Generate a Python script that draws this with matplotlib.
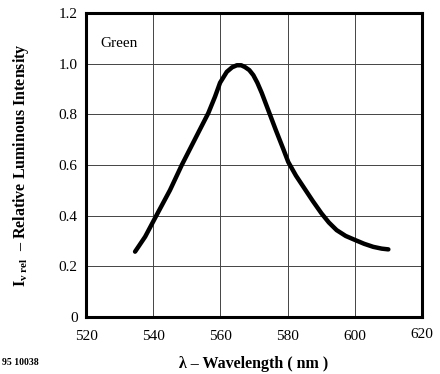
import matplotlib
matplotlib.use("Agg")
import matplotlib.pyplot as plt

wavelength = [534.6, 537.6, 541.0, 545.0, 548.5, 551.0, 553.5, 556.4, 558.4,
              559.9, 561.9, 563.5, 564.9, 566.2, 567.3, 568.6, 569.8, 571.0,
              572.3, 574.3, 576.5, 578.7, 580.2, 582.5, 584.7, 587.5, 590.1,
              592.3, 594.6, 597.3, 600.1, 602.8, 605.5, 608.0, 610.0]
intensity = [0.258, 0.317, 0.402, 0.501, 0.600, 0.665, 0.730, 0.805, 0.870,
             0.925, 0.968, 0.986, 0.994, 0.994, 0.987, 0.975, 0.955, 0.925,
             0.885, 0.815, 0.738, 0.664, 0.612, 0.558, 0.514, 0.458, 0.409,
             0.373, 0.343, 0.320, 0.304, 0.289, 0.277, 0.270, 0.267]

xticks = [520, 540, 560, 580, 600, 620]
yticks = [0, 0.2, 0.4, 0.6, 0.8, 1.0, 1.2]
yticklabels = ["0", "0.2", "0.4", "0.6", "0.8", "1.0", "1.2"]

plt.rcParams["font.family"] = ["Liberation Serif", "DejaVu Serif"]
plt.rcParams["mathtext.fontset"] = "custom"
plt.rcParams["mathtext.rm"] = "Liberation Serif"
plt.rcParams["mathtext.it"] = "Liberation Serif:italic"
plt.rcParams["mathtext.bf"] = "Liberation Serif:bold"

fig = plt.figure(figsize=(4.4, 3.74), dpi=100)
ax = fig.add_axes([0.1955, 0.1524, 0.7635, 0.8126])

ax.plot(wavelength, intensity, color="black", lw=3.2,
        solid_capstyle="round", solid_joinstyle="round")
ax.set_xlim(520, 620)
ax.set_ylim(0, 1.2)
ax.set_xticks(xticks)
ax.set_xticklabels([str(t) for t in xticks[:-1]] + [""])
ax.set_yticks(yticks)
ax.set_yticklabels(yticklabels)
ax.tick_params(axis="y", length=0, labelsize=11, pad=6)
ax.tick_params(axis="x", length=0, labelsize=11, pad=9)
ax.grid(True, color="#444444", lw=0.7)
for s in ax.spines.values():
    s.set_linewidth(2.2)

# the 620 label sits a bit higher in the original
ax.text(620, -0.07, "620", ha="center", va="center", fontsize=11)

ax.text(524.2, 1.081, "Green", fontsize=11, va="center")
ax.set_xlabel("λ – Wavelength ( nm )", fontsize=11.5, fontweight="bold", labelpad=10)
ax.set_ylabel(r"$\mathbf{I}_{\mathbf{v\ rel}}$  – Relative Luminous Intensity",
              fontsize=11.5, fontweight="bold", labelpad=20)
fig.text(0.005, 0.025, "95 10038", fontsize=7, fontweight="bold")

fig.savefig("out.png", dpi=100)
